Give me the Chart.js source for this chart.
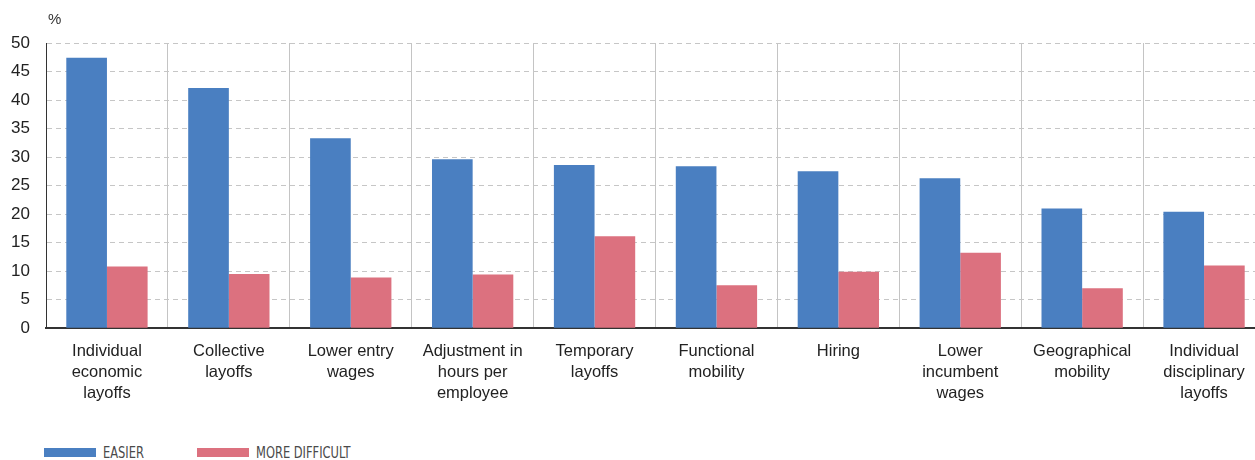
<!DOCTYPE html>
<html>
<head>
<meta charset="utf-8">
<script src="https://cdn.jsdelivr.net/npm/chart.js@4.4.1/dist/chart.umd.min.js"></script>
<style>
    html, body { margin: 0; padding: 0; background: #fff; overflow: hidden; }
    body { width: 1255px; height: 460px; position: relative; }
    #wrap { position: absolute; left: 0; top: 0; width: 1265px; height: 417px; }
    #legend { position: absolute; left: 44px; top: 443px; font-family: 'DejaVu Sans Condensed', 'Liberation Sans Narrow', sans-serif; font-size: 15px; color: #4a4a4a; }
    .item { position: absolute; top: 0; white-space: nowrap; }
    .box { display: inline-block; width: 52px; height: 9px; vertical-align: middle; margin-right: 7px; }
    .txt { display: inline-block; vertical-align: middle; transform: scaleX(0.85); transform-origin: left center; }
</style>
</head>
<body>
<div id="wrap"><canvas id="chart"></canvas></div>
<div id="legend"></div>
<script>
// Categories (x axis, multiline)
const categories = [
    ['Individual', 'economic', 'layoffs'],
    ['Collective', 'layoffs'],
    ['Lower entry', 'wages'],
    ['Adjustment in', 'hours per', 'employee'],
    ['Temporary', 'layoffs'],
    ['Functional', 'mobility'],
    ['Hiring'],
    ['Lower', 'incumbent', 'wages'],
    ['Geographical', 'mobility'],
    ['Individual', 'disciplinary', 'layoffs']
];

// Share of respondents, %
const easier = [47.4, 42.1, 33.3, 29.6, 28.6, 28.4, 27.5, 26.3, 21.0, 20.4];
const moreDifficult = [10.8, 9.5, 8.9, 9.4, 16.1, 7.5, 9.9, 13.2, 7.0, 11.0];

const seriesNames = ['EASIER', 'MORE DIFFICULT'];
const seriesColors = ['#4a7fc1', '#dc717f'];

// Draws the "%" unit above the y axis
const unitLabel = {
    id: 'unitLabel',
    afterDraw(chart) {
        const ctx = chart.ctx;
        ctx.save();
        ctx.font = '15px "Liberation Sans", Arial, sans-serif';
        ctx.fillStyle = '#333';
        ctx.textBaseline = 'middle';
        ctx.fillText('%', chart.chartArea.left + 2, 20);
        ctx.restore();
    }
};

const chart = new Chart(document.getElementById('chart'), {
    type: 'bar',
    data: {
        labels: categories,
        datasets: [
            { label: seriesNames[0], data: easier, backgroundColor: seriesColors[0] },
            { label: seriesNames[1], data: moreDifficult, backgroundColor: seriesColors[1] }
        ]
    },
    options: {
        responsive: true,
        maintainAspectRatio: false,
        animation: false,
        layout: { padding: { top: 43, left: 8, right: 0, bottom: 0 } },
        datasets: {
            bar: { categoryPercentage: 0.667, barPercentage: 1.0, borderWidth: 0 }
        },
        scales: {
            x: {
                grid: { color: '#c4c4c4', lineWidth: 1, offset: true, drawTicks: false },
                border: { color: '#333', width: 2 },
                ticks: {
                    color: '#222',
                    padding: 13,
                    maxRotation: 0,
                    autoSkip: false,
                    font: { family: '"Liberation Sans", Arial, sans-serif', size: 16.5, lineHeight: 1.27 }
                }
            },
            y: {
                min: 0,
                max: 50,
                afterFit(scale) { scale.width = 38; },
                grid: { color: '#c6c6c6', lineWidth: 1, drawTicks: false },
                border: { color: '#333', width: 1, dash: [5, 4] },
                ticks: {
                    stepSize: 5,
                    color: '#222',
                    padding: 16,
                    font: { family: '"Liberation Sans", Arial, sans-serif', size: 17 }
                }
            }
        },
        plugins: {
            legend: { display: false },
            tooltip: { enabled: false }
        }
    },
    plugins: [unitLabel]
});

// HTML legend built from the datasets
const legend = document.getElementById('legend');
const legendOffsets = [0, 153];
chart.data.datasets.forEach((ds, i) => {
    const item = document.createElement('div');
    item.className = 'item';
    item.style.left = legendOffsets[i] + 'px';
    item.innerHTML = `<span class="box" style="background:${ds.backgroundColor}"></span><span class="txt">${ds.label}</span>`;
    legend.appendChild(item);
});
</script>
</body>
</html>
